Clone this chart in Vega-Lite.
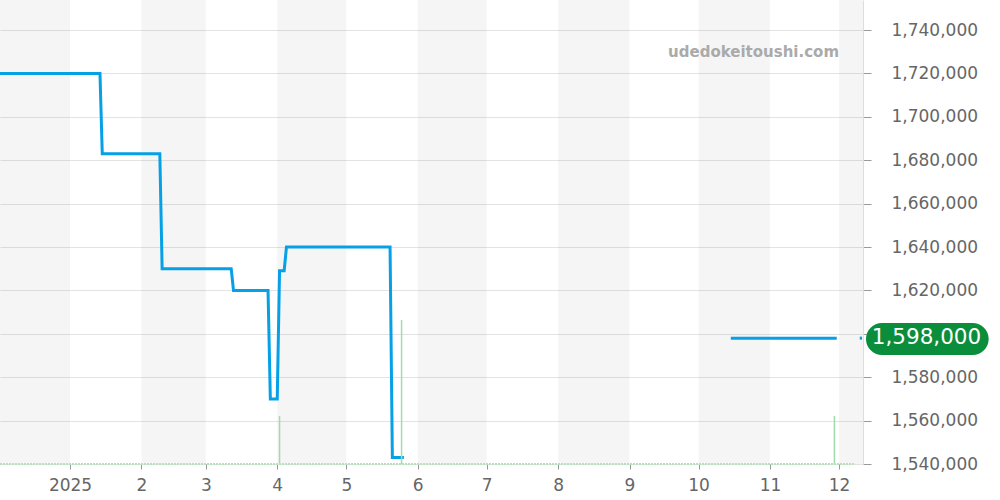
{
  "$schema": "https://vega.github.io/schema/vega-lite/v6.json",
  "width": 863,
  "height": 464,
  "padding": {"left": 0, "top": 0, "right": 137, "bottom": 36},
  "autosize": {"type": "none"},
  "background": "white",
  "config": {"view": {"stroke": null}, "font": "DejaVu Sans"},
  "datasets": {
    "months": [
      {"start": "2024-12-01", "end": "2025-01-01"},
      {"start": "2025-02-01", "end": "2025-03-01"},
      {"start": "2025-04-01", "end": "2025-05-01"},
      {"start": "2025-06-01", "end": "2025-07-01"},
      {"start": "2025-08-01", "end": "2025-09-01"},
      {"start": "2025-10-01", "end": "2025-11-01"},
      {"start": "2025-12-01", "end": "2026-01-01"}
    ],
    "price": [
      {"date": "2024-12-01", "price": 1720000, "seg": 1},
      {"date": "2025-01-14", "price": 1720000, "seg": 1},
      {"date": "2025-01-15", "price": 1683000, "seg": 1},
      {"date": "2025-02-09", "price": 1683000, "seg": 1},
      {"date": "2025-02-10", "price": 1630000, "seg": 1},
      {"date": "2025-03-12", "price": 1630000, "seg": 1},
      {"date": "2025-03-13", "price": 1620000, "seg": 1},
      {"date": "2025-03-28", "price": 1620000, "seg": 1},
      {"date": "2025-03-29", "price": 1570000, "seg": 1},
      {"date": "2025-04-01", "price": 1570000, "seg": 1},
      {"date": "2025-04-02", "price": 1629000, "seg": 1},
      {"date": "2025-04-04", "price": 1629000, "seg": 1},
      {"date": "2025-04-05", "price": 1640000, "seg": 1},
      {"date": "2025-05-20", "price": 1640000, "seg": 1},
      {"date": "2025-05-21", "price": 1543000, "seg": 1},
      {"date": "2025-05-26", "price": 1543000, "seg": 1},
      {"date": "2025-10-15", "price": 1598000, "seg": 2},
      {"date": "2025-11-30", "price": 1598000, "seg": 2},
      {"date": "2025-12-10", "price": 1598000, "seg": 3},
      {"date": "2025-12-11", "price": 1598000, "seg": 3}
    ],
    "volume": [
      {"date": "2025-04-02", "vol": 1},
      {"date": "2025-05-25", "vol": 3},
      {"date": "2025-11-29", "vol": 1}
    ],
    "last": [{"price": 1598000, "label": "1,598,000"}]
  },
  "layer": [
    {
      "layer": [
        {
          "data": {"name": "months"},
          "mark": {"type": "rect", "fill": "#000000", "fillOpacity": 0.04, "clip": true},
          "encoding": {
            "x": {
              "field": "start", "type": "temporal",
              "scale": {"type": "utc", "nice": false, "padding": 0, "domain": [
                {"year": 2024, "month": 12, "date": 1, "hours": 14, "utc": true},
                {"year": 2025, "month": 12, "date": 11, "hours": 10, "utc": true}
              ]},
              "axis": {
                "orient": "bottom", "grid": false, "domain": false,
                "ticks": true, "tickSize": 5, "tickColor": "#999999",
                "labelColor": "#666666", "labelFontSize": 17, "labelPadding": 8,
                "title": null,
                "values": [
                  {"year": 2025, "month": 1, "date": 1, "utc": true},
                  {"year": 2025, "month": 2, "date": 1, "utc": true},
                  {"year": 2025, "month": 3, "date": 1, "utc": true},
                  {"year": 2025, "month": 4, "date": 1, "utc": true},
                  {"year": 2025, "month": 5, "date": 1, "utc": true},
                  {"year": 2025, "month": 6, "date": 1, "utc": true},
                  {"year": 2025, "month": 7, "date": 1, "utc": true},
                  {"year": 2025, "month": 8, "date": 1, "utc": true},
                  {"year": 2025, "month": 9, "date": 1, "utc": true},
                  {"year": 2025, "month": 10, "date": 1, "utc": true},
                  {"year": 2025, "month": 11, "date": 1, "utc": true},
                  {"year": 2025, "month": 12, "date": 1, "utc": true}
                ],
                "labelExpr": "utcmonth(datum.value) == 0 ? utcFormat(datum.value, '%Y') : '' + (utcmonth(datum.value) + 1)"
              }
            },
            "x2": {"field": "end"}
          }
        },
        {
          "data": {"name": "price"},
          "mark": {"type": "line", "color": "#06a0e6", "strokeWidth": 3, "clip": true, "strokeCap": "butt"},
          "encoding": {
            "x": {"field": "date", "type": "temporal"},
            "y": {
              "field": "price", "type": "quantitative",
              "scale": {"domain": [1540000, 1753825], "nice": false, "zero": false},
              "axis": {
                "orient": "right", "grid": true, "gridColor": "#e3e3e3",
                "domain": true, "domainColor": "#dddddd",
                "ticks": true, "tickSize": 8, "tickColor": "#999999",
                "labelColor": "#666666", "labelFontSize": 17, "labelPadding": 20,
                "title": null, "format": ",d",
                "values": [1540000, 1560000, 1580000, 1600000, 1620000, 1640000, 1660000, 1680000, 1700000, 1720000, 1740000]
              }
            },
            "detail": {"field": "seg", "type": "nominal"}
          }
        },
        {
          "data": {"values": [{"text": "udedokeitoushi.com"}]},
          "mark": {"type": "text", "align": "right", "baseline": "middle", "fontSize": 15, "fontWeight": "bold", "color": "#aaaaaa"},
          "encoding": {
            "x": {"datum": {"year": 2025, "month": 12, "date": 1, "utc": true}, "type": "temporal"},
            "y": {"datum": 1730000, "type": "quantitative"},
            "text": {"field": "text"}
          }
        },
        {
          "data": {"name": "last"},
          "mark": {"type": "rect", "color": "#0b8e3b", "cornerRadius": 16},
          "encoding": {
            "x": {"datum": {"year": 2025, "month": 12, "date": 12, "hours": 17, "utc": true}, "type": "temporal"},
            "x2": {"datum": {"year": 2026, "month": 2, "date": 4, "utc": true}},
            "y": {"datum": 1605000, "type": "quantitative"},
            "y2": {"datum": 1590200}
          }
        },
        {
          "data": {"name": "last"},
          "mark": {"type": "text", "align": "center", "baseline": "middle", "fontSize": 21.5, "color": "white"},
          "encoding": {
            "x": {"datum": {"year": 2026, "month": 1, "date": 8, "utc": true}, "type": "temporal"},
            "y": {"field": "price", "type": "quantitative"},
            "text": {"field": "label"}
          }
        }
      ]
    },
    {
      "layer": [
        {
          "data": {"name": "volume"},
          "mark": {"type": "rule", "strokeWidth": 1.5, "color": "#a3dcac"},
          "encoding": {
            "x": {"field": "date", "type": "temporal"},
            "y": {"field": "vol", "type": "quantitative", "scale": {"domain": [0, 9.667], "nice": false}, "axis": null},
            "y2": {"datum": 0}
          }
        },
        {
          "data": {"values": [{"k": 1}]},
          "mark": {"type": "rule", "color": "#b5e2bd", "strokeDash": [2, 1], "strokeWidth": 2},
          "encoding": {
            "x": {"datum": {"year": 2024, "month": 12, "date": 1, "hours": 14, "utc": true}, "type": "temporal"},
            "x2": {"datum": {"year": 2025, "month": 12, "date": 8, "utc": true}},
            "y": {"datum": 0, "type": "quantitative"}
          }
        }
      ]
    }
  ],
  "resolve": {"scale": {"y": "independent"}}
}
